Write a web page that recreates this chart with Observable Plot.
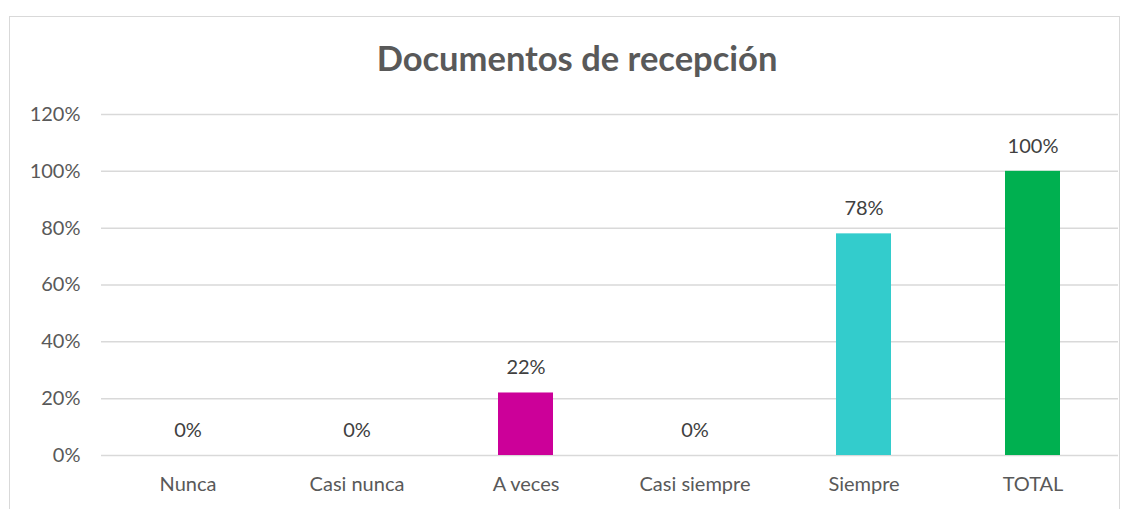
<!DOCTYPE html>
<html>
<head>
<meta charset="utf-8">
<script src="https://cdn.jsdelivr.net/npm/d3@7"></script>
<script src="https://cdn.jsdelivr.net/npm/@observablehq/plot@0.6"></script>
<style>
  html, body { margin: 0; padding: 0; background: #fff; width: 1132px; height: 509px; overflow: hidden; }
  #frame { position: absolute; left: 9px; top: 16px; width: 1111px; height: 520px; border: 1.5px solid #d9d9d9; box-sizing: border-box; }
  #title { position: absolute; left: 0; top: 37px; width: 1154px; text-align: center; font-family: Lato, "Open Sans", sans-serif; font-weight: bold; font-size: 34.5px; color: #595959; }
  #chart { position: absolute; left: 0; top: 100px; }
</style>
</head>
<body>
<div id="frame"></div>
<div id="title">Documentos de recepción</div>
<div id="chart"></div>
<script>
const categories = ["Nunca", "Casi nunca", "A veces", "Casi siempre", "Siempre", "TOTAL"];
const values = [0, 0, 0.22, 0, 0.78, 1.00];
const labels = ["0%", "0%", "22%", "0%", "78%", "100%"];
const barColors = ["#4472C4", "#ED7D31", "#CC0099", "#FFC000", "#33CCCC", "#00B050"];
const yTicks = [0, 0.2, 0.4, 0.6, 0.8, 1.0, 1.2];

const data = categories.map((c, i) => ({cat: c, value: values[i], label: labels[i], color: barColors[i]}));

const chart = Plot.plot({
  width: 1132,
  height: 409,
  marginTop: 14,
  marginBottom: 54,
  marginLeft: 101,
  marginRight: 14,
  style: { fontFamily: "Lato, 'Open Sans', sans-serif", fontSize: "20px", color: "#595959", background: "transparent" },
  x: { domain: categories, paddingInner: 0.676, paddingOuter: 0.338, label: null, tickSize: 0, tickPadding: 21 },
  y: { domain: [0, 1.2], ticks: yTicks, tickFormat: d3.format(".0%"), label: null, tickSize: 0, tickPadding: 21 },
  marks: [
    Plot.ruleY(yTicks, { stroke: "#d9d9d9", strokeWidth: 1.5 }),
    Plot.barY(data, { x: "cat", y: "value", fill: "color" }),
    Plot.text(data, { x: "cat", y: "value", text: "label", dy: -25, fill: "#404040", fontSize: 20 })
  ]
});
document.getElementById("chart").appendChild(chart);
</script>
</body>
</html>
